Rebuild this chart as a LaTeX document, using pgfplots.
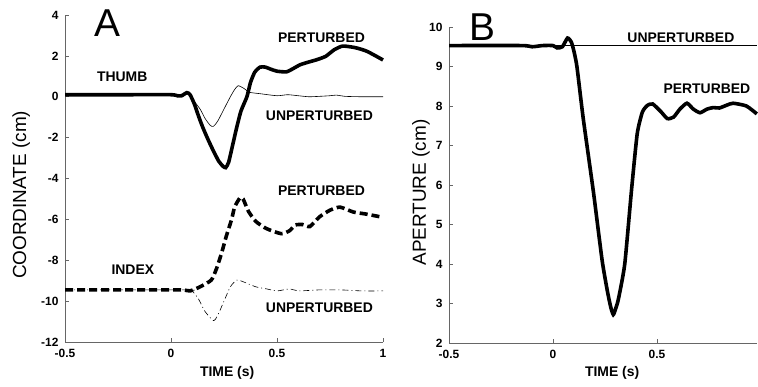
\documentclass[border=0pt]{standalone}
\usepackage{pgfplots}
\pgfplotsset{compat=1.18}
\usepackage{fontspec}
\setmainfont{Liberation Sans}

\tikzset{ann/.style={font=\fontsize{14}{15}\selectfont\bfseries}}
\pgfplotsset{
  panel/.style={
    scale only axis,
    axis x line*=bottom, axis y line*=left,
    axis line style={black!60, line width=0.6pt, -},
    tick style={black!60, line width=0.6pt},
    tick align=inside,
    major tick length=4bp,
    tick label style={font=\fontsize{12}{13}\selectfont\bfseries},
    /pgf/number format/assume math mode=true,
    clip=false,
    xtick={-0.5,0,0.5,1},
    xticklabel style={yshift=-4bp},
    yticklabel style={xshift=-3bp},
    xlabel style={font=\fontsize{14}{15}\selectfont\bfseries},
    ylabel style={font=\fontsize{19}{20}\selectfont},
  },
  thickline/.style={black, line width=3.6bp, smooth, tension=0.35, no marks},
  thinline/.style={black, line width=0.6bp, smooth, tension=0.4, no marks},
}

\begin{document}
\begin{tikzpicture}[x=1bp,y=1bp]
\path[use as bounding box] (0,0) rectangle (758,386);

% ---------------- Panel A ----------------
\begin{axis}[panel,
  at={(65bp,44bp)}, anchor=south west,
  width=318bp, height=327bp,
  xmin=-0.5, xmax=1, ymin=-12, ymax=4,
  ytick={-12,-10,-8,-6,-4,-2,0,2,4},
  xlabel={TIME (s)},
  xlabel style={at={(axis description cs:0.51,-0.095)}, anchor=center},
  ylabel={COORDINATE (cm)},
  ylabel style={at={(axis description cs:-0.138,0.45)}, anchor=center},
]
% thumb unperturbed
\addplot[thinline] coordinates {
(-0.5,0.1) (0.0,0.1) (0.03,0.0) (0.06,0.05) (0.08,0.15) (0.1,-0.1) (0.137,-0.6)
(0.16,-1.05) (0.185,-1.4) (0.2,-1.45) (0.22,-1.2) (0.25,-0.6) (0.28,0.0)
(0.3,0.35) (0.317,0.54) (0.345,0.4) (0.37,0.22) (0.42,0.15) (0.5,0.05)
(0.55,0.1) (0.6,0.05) (0.65,0.0) (0.7,0.02) (0.75,0.05) (0.78,0.08)
(0.82,0.02) (0.9,0.0) (1.0,0.0)};
% thumb perturbed
\addplot[thickline] coordinates {
(-0.5,0.1) (-0.2,0.1) (0.0,0.1) (0.03,0.05) (0.05,0.05) (0.075,0.2) (0.09,0.1)
(0.11,-0.35) (0.13,-0.95) (0.15,-1.5) (0.175,-2.1) (0.2,-2.65) (0.225,-3.15)
(0.245,-3.4) (0.258,-3.47) (0.272,-3.2) (0.29,-2.4) (0.31,-1.5) (0.33,-0.7)
(0.358,0.0) (0.375,0.7) (0.395,1.2) (0.42,1.45) (0.445,1.45) (0.47,1.35)
(0.5,1.25) (0.545,1.22) (0.58,1.4) (0.61,1.57) (0.65,1.7) (0.69,1.82)
(0.73,1.98) (0.77,2.3) (0.81,2.48) (0.87,2.4) (0.925,2.22) (1.0,1.8)};
% index unperturbed
\addplot[thinline, dash pattern=on 6bp off 3bp on 1bp off 3bp] coordinates {
(-0.5,-9.45) (0.08,-9.45) (0.1,-9.5) (0.13,-9.9) (0.16,-10.5) (0.2,-10.95)
(0.22,-10.7) (0.25,-10.0) (0.28,-9.3) (0.31,-8.97) (0.34,-9.05) (0.4,-9.3)
(0.45,-9.4) (0.5,-9.5) (0.56,-9.4) (0.6,-9.5) (0.7,-9.45) (0.8,-9.45)
(0.9,-9.5) (1.0,-9.5)};
% index perturbed
\addplot[thickline, dash pattern=on 8bp off 4bp] coordinates {
(-0.5,-9.45) (0.0,-9.45) (0.06,-9.45) (0.09,-9.5) (0.137,-9.3) (0.19,-8.97)
(0.215,-8.4) (0.24,-7.6) (0.26,-6.85) (0.286,-6.0) (0.3,-5.4) (0.325,-4.95)
(0.34,-5.0) (0.365,-5.6) (0.4,-6.1) (0.45,-6.45) (0.52,-6.7) (0.56,-6.55)
(0.585,-6.28) (0.62,-6.25) (0.655,-6.35) (0.7,-5.88) (0.75,-5.55) (0.797,-5.4)
(0.86,-5.64) (0.92,-5.74) (1.0,-5.9)};

\node[font=\fontsize{39}{40}\selectfont] at (axis cs:-0.30,3.58) {A};
\node[ann] at (axis cs:-0.23,0.98) {THUMB};
\node[ann] at (axis cs:0.71,2.9) {PERTURBED};
\node[ann] at (axis cs:0.70,-0.93) {UNPERTURBED};
\node[ann] at (axis cs:0.71,-4.6) {PERTURBED};
\node[ann] at (axis cs:-0.18,-8.48) {INDEX};
\node[ann] at (axis cs:0.70,-10.34) {UNPERTURBED};
\end{axis}

% ---------------- Panel B ----------------
\begin{axis}[panel,
  at={(449bp,43bp)}, anchor=south west,
  width=307.8bp, height=316bp,
  xmin=-0.5, xmax=0.98, ymin=2, ymax=10,
  xtick={-0.5,0,0.5},
  ytick={2,3,4,5,6,7,8,9,10},
  xlabel={TIME (s)},
  xlabel style={at={(axis description cs:0.53,-0.095)}, anchor=center},
  ylabel={APERTURE (cm)},
  ylabel style={at={(axis description cs:-0.091,0.476)}, anchor=center},
]
% unperturbed
\addplot[thinline] coordinates {(-0.5,9.53) (0.98,9.53)};
% perturbed
\addplot[thickline] coordinates {
(-0.5,9.53) (-0.15,9.53) (-0.1,9.5) (-0.05,9.53) (0.0,9.53) (0.02,9.47)
(0.045,9.5) (0.07,9.72) (0.088,9.62) (0.1,9.4) (0.115,9.0) (0.145,7.7)
(0.195,5.8) (0.236,4.1) (0.262,3.3) (0.278,2.9) (0.29,2.72) (0.3,2.85)
(0.314,3.1) (0.345,4.0) (0.378,5.9) (0.405,7.3) (0.43,7.85) (0.455,8.02)
(0.48,8.05) (0.52,7.85) (0.55,7.68) (0.58,7.72) (0.61,7.92) (0.644,8.07)
(0.675,7.92) (0.707,7.83) (0.74,7.92) (0.77,7.96) (0.80,7.95) (0.835,8.02)
(0.866,8.07) (0.93,8.0) (0.98,7.8)};

\node[font=\fontsize{39}{40}\selectfont] at (axis cs:-0.34,10.0) {B};
\node[ann] at (axis cs:0.615,9.72) {UNPERTURBED};
\node[ann] at (axis cs:0.74,8.43) {PERTURBED};
\end{axis}
\end{tikzpicture}
\end{document}
